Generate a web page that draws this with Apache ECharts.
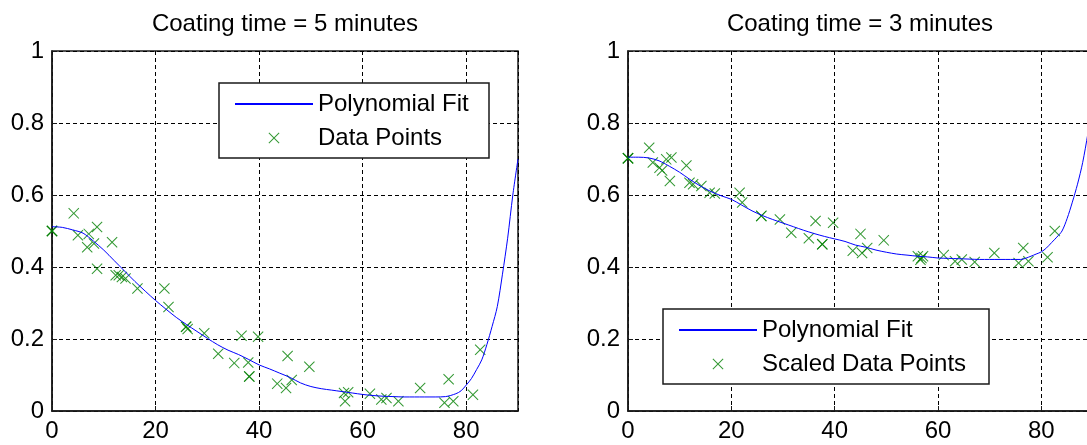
<!DOCTYPE html>
<html>
<head>
<meta charset="utf-8">
<script src="https://cdn.jsdelivr.net/npm/echarts@6/dist/echarts.min.js"></script>
<style>
  html, body { margin: 0; padding: 0; background: #fff; }
  #chart { width: 1087px; height: 445px; }
</style>
</head>
<body>
<div id="chart"></div>
<script>
// Sample positions of the fitted polynomial curves (minutes)
const fitX = [0, 2, 4, 6, 8, 10, 12, 14, 16, 18, 20, 22, 24, 26, 28, 30, 32, 34, 36, 38,
  40, 42, 44, 46, 48, 50, 52, 54, 56, 58, 60, 62, 64, 66, 68, 70, 72, 74, 76, 78,
  79, 80, 81, 82, 83, 84, 85, 86, 87, 88, 89, 90];

// Polynomial fit, coating time 5 minutes
const fit5 = [0.512, 0.510, 0.503, 0.494, 0.472, 0.447, 0.418, 0.389, 0.360, 0.333,
  0.307, 0.283, 0.260, 0.240, 0.221, 0.202, 0.184, 0.169, 0.157, 0.143,
  0.128, 0.117, 0.105, 0.093, 0.078, 0.068, 0.062, 0.058, 0.054, 0.050,
  0.046, 0.043, 0.041, 0.040, 0.039, 0.039, 0.039, 0.039, 0.040, 0.048,
  0.056, 0.072, 0.090, 0.115, 0.142, 0.185, 0.235, 0.290, 0.380, 0.480, 0.600, 0.700];

// Polynomial fit, coating time 3 minutes
const fit3 = [0.705, 0.705, 0.703, 0.695, 0.680, 0.663, 0.643, 0.625, 0.610, 0.598,
  0.588, 0.572, 0.556, 0.543, 0.532, 0.522, 0.512, 0.502, 0.493, 0.485,
  0.478, 0.471, 0.461, 0.455, 0.447, 0.441, 0.436, 0.433, 0.430, 0.428,
  0.425, 0.424, 0.423, 0.422, 0.421, 0.421, 0.421, 0.421, 0.421, 0.430,
  0.436, 0.442, 0.453, 0.468, 0.483, 0.500, 0.535, 0.580, 0.630, 0.690, 0.770, 0.860];

// Measured points, coating time 5 minutes
const pts5X = [0, 0, 0, 4.2, 5.0, 7.1, 8.7, 6.8, 8.1, 11.6, 8.7, 12.3, 12.9, 13.5, 14.2,
  16.5, 21.7, 22.5, 25.9, 25.9, 26.2, 29.4, 32.1, 35.2, 36.6, 37.9, 38.1, 38.1, 39.8,
  43.5, 45.2, 45.5, 46.3, 49.7, 56.4, 56.6, 57.2, 61.4, 63.6, 64.6, 66.9, 71.1,
  75.8, 76.6, 77.5, 81.3, 82.7];
const pts5Y = [0.500, 0.500, 0.500, 0.549, 0.488, 0.492, 0.511, 0.455, 0.465, 0.469, 0.395,
  0.377, 0.377, 0.372, 0.368, 0.340, 0.340, 0.289, 0.234, 0.234, 0.228, 0.216, 0.159,
  0.133, 0.209, 0.135, 0.096, 0.096, 0.206, 0.076, 0.064, 0.153, 0.086, 0.123, 0.050,
  0.027, 0.052, 0.048, 0.032, 0.036, 0.027, 0.064, 0.023, 0.088, 0.027, 0.045, 0.170];

// Scaled measured points, coating time 3 minutes
const pts3X = [0, 0, 0, 4.1, 4.8, 6.1, 6.6, 7.4, 8.4, 8.1, 11.3, 11.9, 12.6, 14.2, 15.8,
  16.8, 21.6, 22.1, 25.8, 25.8, 29.4, 31.6, 35.0, 36.3, 37.6, 37.6, 39.7, 43.5, 45.0,
  45.3, 46.3, 49.5, 56.1, 56.6, 57.1, 56.8, 61.1, 63.3, 64.6, 67.1, 70.9, 75.6, 76.5,
  77.5, 81.2, 82.6];
const pts3Y = [0.702, 0.702, 0.702, 0.731, 0.690, 0.676, 0.668, 0.699, 0.704, 0.639, 0.682,
  0.634, 0.630, 0.625, 0.606, 0.604, 0.606, 0.579, 0.542, 0.542, 0.532, 0.495, 0.480,
  0.528, 0.463, 0.463, 0.523, 0.445, 0.492, 0.439, 0.453, 0.474, 0.430, 0.420, 0.430,
  0.425, 0.433, 0.416, 0.421, 0.414, 0.439, 0.411, 0.453, 0.416, 0.427, 0.500];

const titles = ['Coating time = 5 minutes', 'Coating time = 3 minutes'];
const pointNames = ['Data Points', 'Scaled Data Points'];
const fitName = 'Polynomial Fit';
const xRange = [0, 90, 20];   // min, max, tick step
const yRange = [0, 1, 0.2];

const FONT = 'Liberation Sans, Arial, Helvetica, sans-serif';
const GREEN = '#008000';
const BLUE = '#0000ff';
const INK = '#1a1a1a';
// "x" marker drawn as a filled outline so it renders identically in plot and legend
const CROSS = 'path://M0,0.8L0.8,0L6,5.2L11.2,0L12,0.8L6.8,6L12,11.2L11.2,12L6,6.8L0.8,12L0,11.2L5.2,6Z';

const pair = (xs, ys) => xs.map((x, i) => [x, ys[i]]);

const grids = [
  { left: 52, top: 51, width: 466, height: 360 },
  { left: 628, top: 51, width: 465, height: 360 }
].map(g => Object.assign(g, {
  show: true, borderColor: INK, borderWidth: 1.5, backgroundColor: '#fff',
  outerBoundsMode: 'none', containLabel: false
}));

const axisCommon = {
  axisLine: { show: true, lineStyle: { color: INK, width: 1.5 } },
  axisTick: { show: true, inside: true, length: 5, lineStyle: { color: INK } },
  splitLine: { show: true, lineStyle: { color: '#000', width: 1, type: [4, 3] } },
  axisLabel: { color: '#000', fontSize: 24, fontFamily: FONT }
};

const xAxes = [0, 1].map(i => Object.assign({}, axisCommon, {
  type: 'value', gridIndex: i, min: xRange[0], max: xRange[1], interval: xRange[2],
  axisLabel: Object.assign({}, axisCommon.axisLabel, { margin: 8, showMaxLabel: false })
}));
const yAxes = [0, 1].map(i => Object.assign({}, axisCommon, {
  type: 'value', gridIndex: i, min: yRange[0], max: yRange[1], interval: yRange[2],
  axisLabel: Object.assign({}, axisCommon.axisLabel, { margin: 8 })
}));

const fits = [fit5, fit3];
const pts = [pair(pts5X, pts5Y), pair(pts3X, pts3Y)];

const series = [];
[0, 1].forEach(i => {
  series.push({
    name: pointNames[i], type: 'scatter', xAxisIndex: i, yAxisIndex: i,
    symbol: CROSS, symbolSize: 11, itemStyle: { color: GREEN },
    data: pts[i], z: 2
  });
  series.push({
    name: fitName, type: 'line', xAxisIndex: i, yAxisIndex: i,
    showSymbol: false, symbol: 'none', smooth: 0.3,
    itemStyle: { color: 'rgba(0,0,0,0)' },
    lineStyle: { color: BLUE, width: 1 },
    data: pair(fitX, fits[i]), z: 3
  });
});

const legendCommon = {
  orient: 'vertical', itemWidth: 78, itemHeight: 11, itemGap: 8,
  padding: [8, 12, 7, 15], backgroundColor: '#fff', borderColor: INK, borderWidth: 1.5,
  borderRadius: 0, selectedMode: false, symbolKeepAspect: true,
  textStyle: { color: '#000', fontSize: 24, fontFamily: FONT, lineHeight: 26 }
};
const legends = [
  Object.assign({}, legendCommon, { left: 219, top: 83,
    data: [fitName, pointNames[0]],
    textStyle: Object.assign({}, legendCommon.textStyle, { width: 159 }) }),
  Object.assign({}, legendCommon, { left: 663, top: 309,
    data: [fitName, pointNames[1]],
    textStyle: Object.assign({}, legendCommon.textStyle, { width: 215 }) })
];

const chart = echarts.init(document.getElementById('chart'), null, { renderer: 'canvas' });
chart.setOption({
  animation: false,
  backgroundColor: '#fff',
  title: [
    { text: titles[0], left: 285, top: 12, textAlign: 'center', padding: 0,
      textStyle: { color: '#000', fontSize: 24, fontWeight: 'normal', fontFamily: FONT } },
    { text: titles[1], left: 860, top: 12, textAlign: 'center', padding: 0,
      textStyle: { color: '#000', fontSize: 24, fontWeight: 'normal', fontFamily: FONT } }
  ],
  grid: grids,
  xAxis: xAxes,
  yAxis: yAxes,
  legend: legends,
  series: series
});
</script>
</body>
</html>
